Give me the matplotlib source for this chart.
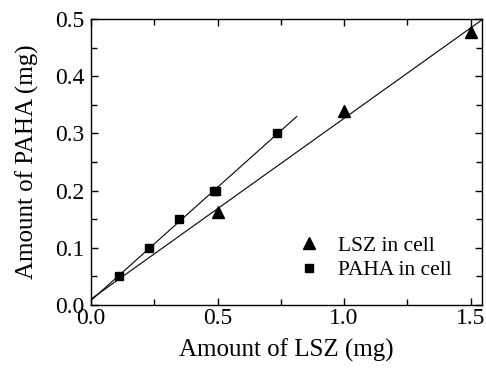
import numpy as np
import matplotlib
matplotlib.use("Agg")
import matplotlib.pyplot as plt
from matplotlib.ticker import MultipleLocator

plt.rcParams['font.family'] = ['Liberation Serif', 'DejaVu Serif']

# LSZ in cell
lsz_x = [0.5, 1.0, 1.5]
lsz_y = [0.162, 0.339, 0.478]
# PAHA in cell
paha_x = [0.112, 0.228, 0.349, 0.487, 0.495, 0.736]
paha_y = [0.05, 0.10, 0.15, 0.20, 0.20, 0.30]

fig = plt.figure(figsize=(4.86, 3.69), dpi=100)
ax = fig.add_axes([91/486, 1 - 305/369, (482-91)/486, (305-19)/369])

# linear fits
k1, b1 = np.polyfit(lsz_x, lsz_y, 1)
k2, b2 = np.polyfit(paha_x, paha_y, 1)
xf1 = np.array([0, 1.55])
xf2 = np.array([0, 0.813])
ax.plot(xf1, k1*xf1 + b1, color='black', lw=0.8)
ax.plot(xf2, k2*xf2 + b2, color='black', lw=0.8)

ax.plot(lsz_x, lsz_y, '^', color='black', ms=8.5, ls='none', label='LSZ in cell')
ax.plot(paha_x, paha_y, 's', color='black', ms=6, ls='none', label='PAHA in cell')

ax.set_xlim(0, 1.545)
ax.set_ylim(0, 0.5)
ax.xaxis.set_major_locator(MultipleLocator(0.5))
ax.xaxis.set_minor_locator(MultipleLocator(0.25))
ax.yaxis.set_major_locator(MultipleLocator(0.1))
ax.yaxis.set_minor_locator(MultipleLocator(0.05))
ax.xaxis.set_major_formatter(plt.FormatStrFormatter('%.1f'))
ax.yaxis.set_major_formatter(plt.FormatStrFormatter('%.1f'))
ax.tick_params(which='both', direction='in', top=True, right=True, labelsize=17)
ax.tick_params(which='major', length=5, width=1)
ax.tick_params(which='minor', length=4, width=1)
ax.tick_params(axis='x', pad=2)
ax.tick_params(axis='y', pad=5)
for s in ax.spines.values():
    s.set_linewidth(1)

ax.set_xlabel('Amount of LSZ (mg)', fontsize=18, labelpad=7)
ax.set_ylabel('Amount of PAHA (mg)', fontsize=18, labelpad=11)

fig.legend(loc='center left', bbox_to_anchor=(0.613, 0.301), frameon=False,
           fontsize=15.5, handlelength=1.0, handletextpad=0.85,
           labelspacing=0.2, borderpad=0, borderaxespad=0)

fig.savefig('out.png', dpi=100)
